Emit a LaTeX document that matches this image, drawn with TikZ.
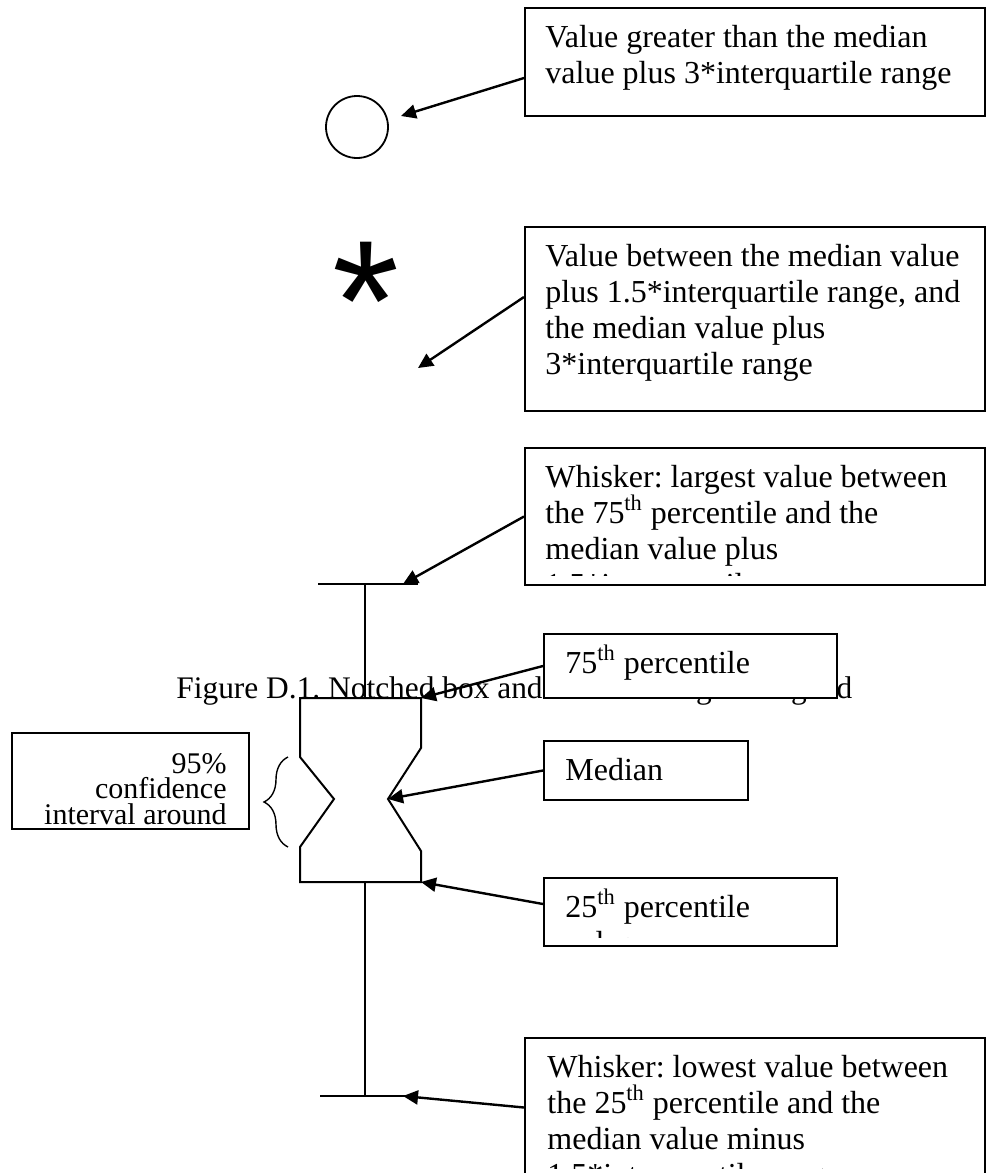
\documentclass[tikz,border=0pt]{standalone}
\usepackage{fontspec}
\setmainfont{Liberation Serif}
\newfontfamily\starfont{Liberation Sans}
\usetikzlibrary{arrows.meta,decorations.pathreplacing}
\frenchspacing

\begin{document}
\begin{tikzpicture}[
    x=0.5pt, y=-0.5pt,
    font=\fontsize{16}{18}\selectfont,
    frame/.style={rectangle, draw, line width=1pt, fill=white, inner sep=0, anchor=north west},
    note/.style={inner sep=0, text width=225pt, align=flush left, anchor=base west},
    arrow/.style={-{Triangle[length=7.5pt, width=7pt]}, line width=1.2pt},
    whisker/.style={line width=1pt}
]
\useasboundingbox (0,0) rectangle (986,1173);

% Caption (partly hidden under the 75th percentile box)
\node[anchor=base west, inner sep=0, font=\fontsize{15.7}{18}\selectfont] (caption) at (176,698)
    {Figure D.1. Notched box and whisker diagram legend};

% ------------------ Outlier symbols ------------------
\node[circle, draw, line width=0.9pt, minimum size=31pt, inner sep=0] (faroutlier) at (357,127) {};
\node[font=\starfont\fontsize{86}{86}\selectfont, inner sep=0, anchor=base] (nearoutlier) at (366,360) {*};

% ------------------ Notched box ------------------
\coordinate (q3l) at (300,698);
\coordinate (q3r) at (421,698);
\coordinate (q1l) at (300,882);
\coordinate (q1r) at (421,882);
\coordinate (medl) at (334,799);
\coordinate (medr) at (388,799);
\draw[whisker] (q3l) -- (q3r) -- (421,748) -- (medr) -- (421,851) -- (q1r)
    -- (q1l) -- (300,847) -- (medl) -- (300,757) -- cycle;

% Whiskers
\coordinate (uwpt) at (403,584);
\coordinate (lwpt) at (403,1096);
\draw[whisker] (318,584) -- (418,584);
\draw[whisker] (365,584) -- (365,698);
\draw[whisker] (365,882) -- (365,1096);
\draw[whisker] (320,1096) -- (405,1096);

% Brace for the confidence interval
\draw[decorate, decoration={brace, amplitude=12pt}, line width=0.7pt] (288,847) -- (288,757);

% ------------------ Text boxes ------------------
\node[frame, minimum width=230pt, minimum height=54pt] (farbox) at (524,7) {};
\begin{scope}
    \clip ([yshift=5pt]farbox.south west) rectangle (farbox.north east);
    \node[note] at ([xshift=10.5pt, yshift=-20pt]farbox.north west)
    {Value greater than the median\\value plus 3*interquartile range};
\end{scope}

\node[frame, minimum width=230pt, minimum height=92pt] (nearbox) at (524,226) {};
\begin{scope}
    \clip ([yshift=5pt]nearbox.south west) rectangle (nearbox.north east);
    \node[note] at ([xshift=10.5pt, yshift=-20pt]nearbox.north west)
    {Value between the median value\\plus 1.5*interquartile range, and\\the median value plus\\3*interquartile range};
\end{scope}

\node[frame, minimum width=230pt, minimum height=68.5pt] (uwbox) at (524,447) {};
\begin{scope}
    \clip ([yshift=5.5pt]uwbox.south west) rectangle (uwbox.north east);
    \node[note] at ([xshift=10.5pt, yshift=-20pt]uwbox.north west)
    {Whisker: largest value between\\the 75\textsuperscript{th} percentile and the\\median value plus\\1.5*interquartile range};
\end{scope}

\node[frame, minimum width=146.5pt, minimum height=32pt] (q3box) at (543,633) {};
\node[note] at ([xshift=11pt, yshift=-20pt]q3box.north west) {75\textsuperscript{th} percentile};

\node[frame, minimum width=102pt, minimum height=29.5pt] (medbox) at (543,740) {};
\node[note] at ([xshift=11pt, yshift=-20pt]medbox.north west) {Median};

\node[frame, minimum width=146.5pt, minimum height=34pt] (q1box) at (543,877) {};
\begin{scope}
    \clip ([yshift=5pt]q1box.south west) rectangle (q1box.north east);
    \node[note] at ([xshift=11pt, yshift=-20pt]q1box.north west)
    {25\textsuperscript{th} percentile\\value};
\end{scope}

\node[frame, minimum width=230pt, minimum height=69.5pt] (lwbox) at (524,1037) {};
\begin{scope}
    \clip ([yshift=5pt]lwbox.south west) rectangle (lwbox.north east);
    \node[note] at ([xshift=11.5pt, yshift=-20pt]lwbox.north west)
    {Whisker: lowest value between\\the 25\textsuperscript{th} percentile and the\\median value minus\\1.5*interquartile range};
\end{scope}

\node[frame, minimum width=118.5pt, minimum height=48pt] (cibox) at (11,732) {};
\node[inner sep=0, text width=105pt, align=flush right, anchor=base east,
      font=\fontsize{15}{12.8}\selectfont] at ([xshift=-11.5pt, yshift=-20.5pt]cibox.north east)
    {95\%\\confidence\\interval around};

% ------------------ Arrows ------------------
\draw[arrow] ([yshift=-8pt]farbox.west) -- (401,116);
\draw[arrow] ([yshift=11pt]nearbox.west) -- (418,368);
\draw[arrow] (uwbox.west) -- (uwpt);
\draw[arrow] (q3box.west) -- (q3r);
\draw[arrow] (medbox.west) -- (medr);
\draw[arrow] ([yshift=4pt]q1box.west) -- (q1r);
\draw[arrow] (lwbox.west) -- (lwpt);

\end{tikzpicture}
\end{document}
